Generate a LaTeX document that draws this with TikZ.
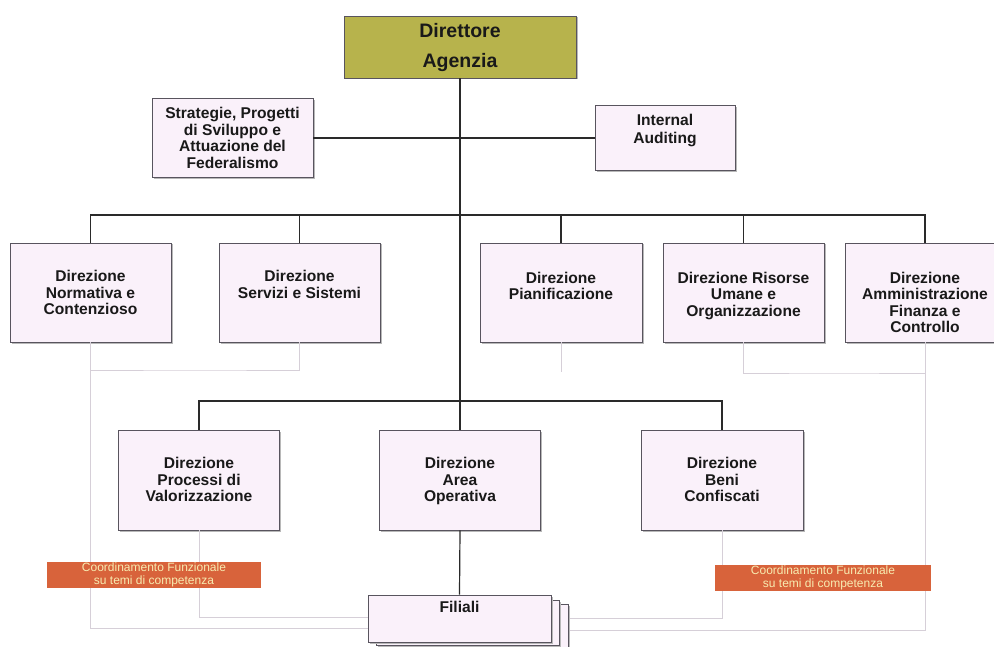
\documentclass[tikz,border=0pt]{standalone}
\usepackage{fontspec}
\setmainfont{Liberation Sans}
\usetikzlibrary{shadows,calc}
\definecolor{boxfill}{HTML}{FAF1FA}
\definecolor{boxline}{HTML}{58545E}
\definecolor{olive}{HTML}{B7B34C}
\definecolor{coordfill}{HTML}{D8633B}
\definecolor{coordtxt}{HTML}{F7EBB0}
\definecolor{faintline}{HTML}{D6CFD8}
\definecolor{mainline}{HTML}{2A2A2A}
\begin{document}
\begin{tikzpicture}[x=1pt,y=-1pt,
  box/.style 2 args={draw=boxline, line width=0.9pt, fill=boxfill, rectangle, inner sep=0pt,
     minimum width=#1pt, minimum height=#2pt,
     general shadow={shadow xshift=1.5pt, shadow yshift=-1.5pt, fill=black!28}},
  lbl/.style={anchor=north, inner sep=0pt, align=center,
     font=\bfseries\fontsize{15.6}{16.5}\selectfont, text=black!90},
  conn/.style={draw=mainline, line width=1.2pt},
  faint/.style={draw=faintline, line width=0.8pt},
  coordbar/.style={fill=coordfill, draw=none, minimum width=#1pt, minimum height=26pt,
     inner sep=0pt, align=center, text=coordtxt,
     font=\fontsize{12}{13}\selectfont}
]
\fill[white] (0,0) rectangle (994,647);
\useasboundingbox (0,0) rectangle (994,647);

% ---------- free ends of the faint coordination lines ----------
\coordinate (fl1) at (195,370);
\coordinate (fl2) at (368,628);
\coordinate (fr1) at (834,373);
\coordinate (fr2) at (568,630);
\coordinate (fr3) at (568,618);
\coordinate (ps) at (561,372);

% ---------- boxes ----------
\node[box={232}{62}, fill=olive] (dir) at (460,47) {};
\node[box={161}{79}] (strat) at (232.5,138) {};
\node[box={140}{65}] (audit) at (665,138) {};

\node[box={161}{99}] (norm) at (90.5,292.5) {};
\node[box={161}{99}] (serv) at (299.5,292.5) {};
\node[box={162}{99}] (pian) at (561,292.5) {};
\node[box={161}{99}] (ris) at (743.5,292.5) {};
\node[box={160}{99}] (amm) at (925,292.5) {};

\node[box={161}{100}] (proc) at (199,480) {};
\node[box={161}{100}] (area) at (460,480) {};
\node[box={162}{100}] (beni) at (722,480) {};

% faint lines
\draw[faint] (norm.south) |- (fl1) -| (serv.south);
\draw[faint] (norm.south) |- (fl2);
\draw[faint] (proc.south) |- (fl2 |- 0,617);
\draw[faint] (pian.south) -- (ps);
\draw[faint] (ris.south) |- (fr1) -| (amm.south);
\draw[faint] (amm.south) |- (fr2);
\draw[faint] (beni.south) |- (fr3);

% Filiali stack
\node[box={183}{45}] (fil3) at (476.5,626.5) {};
\node[box={183}{45}] (fil2) at (467.5,622.5) {};
\node[box={183}{47}] (fil) at (459.5,618.5) {};

% ---------- connectors ----------
\draw[conn] (dir.south) -- (area.north);
\draw[conn] (area.south) -- (fil.north);
\draw[conn] (strat.east) -- (audit.west);
\coordinate (b1) at (460,215);
\draw[conn] (norm.north) |- (b1) -| (amm.north);
\draw[conn] (serv.north) |- (b1);
\draw[conn] (pian.north) |- (b1);
\draw[conn] (ris.north) |- (b1);
\coordinate (b2) at (460,401);
\draw[conn] (proc.north) |- (b2) -| (beni.north);

% ---------- labels ----------
\node[lbl, font=\bfseries\fontsize{19.5}{30}\selectfont] (dir-t) at ($(dir.north)+(0,8)$) {Direttore\\Agenzia};
\node[lbl] (strat-t) at ($(strat.north)+(0,9)$) {Strategie, Progetti\\di Sviluppo e\\Attuazione del\\Federalismo};
\node[lbl, font=\bfseries\fontsize{15.6}{18}\selectfont] (audit-t) at ($(audit.north)+(0,9)$) {Internal\\Auditing};

\node[lbl] (norm-t) at ($(norm.north)+(0,27.5)$) {Direzione\\Normativa e\\Contenzioso};
\node[lbl] (serv-t) at ($(serv.north)+(0,27.5)$) {Direzione\\Servizi e Sistemi};
\node[lbl] (pian-t) at ($(pian.north)+(0,29)$) {Direzione\\Pianificazione};
\node[lbl] (ris-t) at ($(ris.north)+(0,29)$) {Direzione Risorse\\Umane e\\Organizzazione};
\node[lbl] (amm-t) at ($(amm.north)+(0,29)$) {Direzione\\Amministrazione\\Finanza e\\Controllo};

\node[lbl] (proc-t) at ($(proc.north)+(0,27.5)$) {Direzione\\Processi di\\Valorizzazione};
\node[lbl] (area-t) at ($(area.north)+(0,27.5)$) {Direzione\\Area\\Operativa};
\node[lbl] (beni-t) at ($(beni.north)+(0,27.5)$) {Direzione\\Beni\\Confiscati};
\node[lbl] (fil-t) at ($(fil.north)+(0,6.5)$) {Filiali};

% ---------- coordination bars ----------
\node[coordbar=214] (cl) at (154,575) {Coordinamento Funzionale\\su temi di competenza};
\node[coordbar=216] (cr) at (823,578) {Coordinamento Funzionale\\su temi di competenza};
\end{tikzpicture}
\end{document}
